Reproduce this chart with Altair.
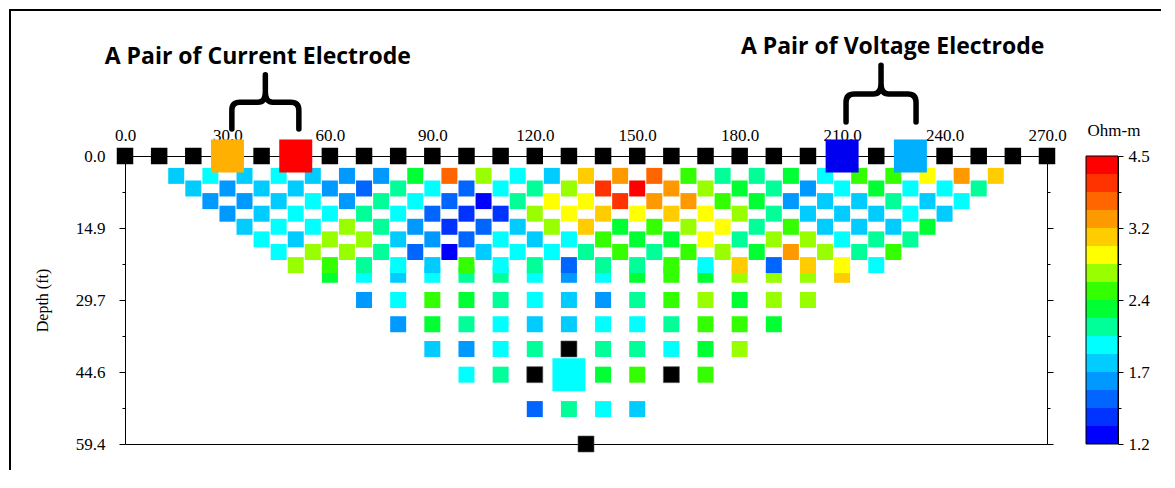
import altair as alt
import pandas as pd

# ---------------- values ----------------
X_TICKS = [0, 30, 60, 90, 120, 150, 180, 210, 240, 270]
DEPTH_TICKS = [0.0, 14.85, 29.7, 44.55, 59.4]
DEPTH_TICK_LABELS = ["0.0", "14.9", "29.7", "44.6", "59.4"]
DEPTH_MINOR_TICKS = [7.425, 22.275, 37.125, 51.975]

ELECTRODE_X = [0, 10, 20, 30, 40, 50, 60, 70, 80, 90, 100, 110, 120, 130,
               140, 150, 160, 170, 180, 190, 200, 210, 220, 230, 240, 250, 260, 270]
CURRENT_X = [30, 50]
CURRENT_COLORS = ["#FFB000", "#FF0000"]
VOLTAGE_X = [210, 230]
VOLTAGE_COLORS = ["#0000F0", "#00B0FF"]

# pseudo-section rows: depth (ft), x of first square (ft), apparent resistivity (Ohm-m)
ROW_DEPTH = [4.1, 6.7, 9.3, 11.9, 14.6, 17.2, 19.8, 22.5, 24.5, 29.7, 34.7, 39.8, 45.1, 52.2]
ROW_START_X = [15, 20, 25, 30, 35, 40, 45, 50, 60, 70, 80, 90, 100, 120]
ROW_01 = [1.74, 1.89, 1.74, 1.89, 1.74, 1.60, 1.60, 2.23, 3.66, 2.63, 1.89, 1.74, 3.10,
          3.37, 3.66, 2.42, 2.05, 2.05, 2.23, 1.89, 2.42, 2.42, 2.86, 3.37, 3.10]
ROW_02 = [1.74, 1.60, 1.74, 1.74, 1.60, 1.48, 2.05, 1.89, 1.48, 1.89, 2.05, 2.63, 3.98,
          4.32, 3.37, 2.63, 2.23, 2.05, 1.60, 1.89, 2.23, 1.89, 1.89, 2.05]
ROW_03 = [1.60, 1.60, 1.74, 1.89, 1.60, 2.05, 1.89, 1.48, 1.25, 2.05, 2.86, 2.86, 3.98,
          3.37, 3.37, 2.42, 2.23, 1.60, 1.74, 1.74, 2.05, 1.74, 1.89]
ROW_04 = [1.60, 1.74, 1.89, 1.89, 2.05, 1.89, 1.48, 1.36, 1.36, 2.63, 2.86, 3.10, 2.86,
          3.10, 2.86, 2.63, 2.05, 1.74, 1.74, 1.74, 1.89, 1.74]
ROW_05 = [1.74, 1.89, 1.89, 2.63, 2.05, 1.60, 1.36, 1.48, 1.74, 2.63, 3.10, 2.23, 2.42,
          2.63, 2.86, 2.05, 2.42, 1.74, 1.74, 1.74, 2.23]
ROW_06 = [1.89, 1.74, 2.63, 2.63, 1.74, 1.60, 1.48, 1.89, 1.74, 1.89, 2.42, 2.23, 2.23,
          2.86, 2.05, 2.63, 2.63, 1.89, 2.05, 2.05]
ROW_07 = [1.89, 2.63, 2.63, 2.05, 1.48, 1.25, 1.74, 1.89, 1.89, 2.05, 2.42, 2.05, 2.42,
          2.63, 2.23, 3.37, 2.63, 2.05, 2.42]
ROW_08 = [2.63, 2.42, 2.05, 1.89, 1.74, 2.42, 1.89, 2.05, 1.48, 2.05, 2.05, 2.42, 1.89,
          3.10, 1.48, 3.10, 2.86, 1.89]
ROW_09 = [2.23, 1.89, 1.74, 1.89, 2.05, 2.05, 1.89, 1.60, 1.89, 2.23, 2.42, 2.23, 2.63,
          2.63, 2.63, 3.10]
ROW_10 = [1.60, 1.89, 2.42, 2.23, 2.05, 1.89, 1.74, 1.60, 2.05, 2.42, 2.63, 2.23, 2.63, 2.63]
ROW_11 = [1.60, 2.23, 2.05, 1.89, 1.74, 1.74, 1.89, 1.89, 2.05, 2.42, 2.42, 2.23]
ROW_12 = [1.74, 1.60, 1.89, 2.05, None, 2.05, 2.05, 1.89, 2.23, 2.63]
ROW_13 = [1.89, 2.05, None, 1.89, 2.23, 2.42, None, 2.42]
ROW_14 = [1.48, 2.05, 1.89, 1.74]
ROWS = [ROW_01, ROW_02, ROW_03, ROW_04, ROW_05, ROW_06, ROW_07,
        ROW_08, ROW_09, ROW_10, ROW_11, ROW_12, ROW_13, ROW_14]

HIGHLIGHT_X, HIGHLIGHT_DEPTH = 130, 45.1
MARKER_X = [130, 120, 160, 135]
MARKER_DEPTH = [39.8, 45.1, 45.1, 59.4]

BAND_EDGES = [1.20, 1.30, 1.42, 1.54, 1.67, 1.81, 1.97, 2.14, 2.32,
              2.52, 2.74, 2.98, 3.23, 3.51, 3.81, 4.14, 4.50]
BAND_COLORS = ["#0000FF", "#0033FF", "#0066FF", "#0099FF", "#00CCFF", "#00FFFF",
               "#00FF99", "#00FF33", "#33FF00", "#99FF00", "#FFFF00", "#FFCC00",
               "#FF9900", "#FF6600", "#FF3300", "#FF0000"]
LEGEND_TICK_BANDS = [0, 4, 8, 12, 16]
LEGEND_MINOR_BANDS = [2, 6, 10, 14]
LEGEND_TICK_LABELS = ["1.2", "1.7", "2.4", "3.2", "4.5"]

ANNOT_TEXT = ["A Pair of Current Electrode", "A Pair of Voltage Electrode"]
ANNOT_X = [38.9, 224.8]
ANNOT_DEPTH = [-19.0, -20.95]
BRACE_X = [41.1, 221.4]
BRACE_DEPTH = [-11.1, -12.8]
BRACE_SPAN = [4489, 4900]

# ---------------- tables ----------------
recs = []
for depth, x0, vals in reversed(list(zip(ROW_DEPTH, ROW_START_X, ROWS))):
    for i, v in enumerate(vals):
        if v is None:
            continue
        x = x0 + 10 * i
        big = (x == HIGHLIGHT_X and depth == HIGHLIGHT_DEPTH)
        recs.append({"x": x, "depth": depth, "rho": v, "s": 1089 if big else 256})
cells = pd.DataFrame(recs)

markers = pd.DataFrame({"x": MARKER_X, "depth": MARKER_DEPTH})
special = CURRENT_X + VOLTAGE_X
black_el = pd.DataFrame({"x": [e for e in ELECTRODE_X if e not in special],
                         "depth": 0.0})
color_el = pd.DataFrame({"x": CURRENT_X + VOLTAGE_X, "depth": 0.0,
                         "col": CURRENT_COLORS + VOLTAGE_COLORS})
bands = pd.DataFrame({"lo": list(range(16)), "hi": list(range(1, 17)), "col": BAND_COLORS})
annots = pd.DataFrame({"t": ANNOT_TEXT, "x": ANNOT_X, "depth": ANNOT_DEPTH})
braces = pd.DataFrame({"x": BRACE_X, "depth": BRACE_DEPTH, "s": BRACE_SPAN})
one = pd.DataFrame({"a": [0]})

# ---------------- helpers ----------------
SERIF = "Liberation Serif"


def label_expr(values, labels):
    expr = "''"
    for v, l in reversed(list(zip(values, labels))):
        expr = f"abs(datum.value - {v}) < 1e-6 ? '{l}' : ({expr})"
    return expr


def minor_test(values):
    return " || ".join(f"abs(datum.value - {v}) < 1e-6" for v in values)


xs = alt.Scale(domain=[0, 270], nice=False, zero=False)


def ys():
    return alt.Scale(domain=[0, 59.4], reverse=True, nice=False, zero=False)


depth_vals = sorted(DEPTH_TICKS + DEPTH_MINOR_TICKS)
depth_ticksize = {"condition": {"test": minor_test(DEPTH_MINOR_TICKS), "value": 3}, "value": 6}

axis_common = dict(labelFont=SERIF, labelFontSize=17, labelColor="black",
                   tickColor="black", domainColor="black", grid=False,
                   labelFlush=False, labelOverlap=False)

x_axis = alt.Axis(orient="top", values=X_TICKS, format=".1f", tickSize=8,
                  labelPadding=4, title=None, **axis_common)
left_axis = alt.Axis(orient="left", values=depth_vals,
                     labelExpr=label_expr(DEPTH_TICKS, DEPTH_TICK_LABELS),
                     tickSize=depth_ticksize, labelPadding=14,
                     title="Depth (ft)", titleFont=SERIF, titleFontSize=16,
                     titleFontWeight="normal", titleColor="black", titlePadding=25,
                     **axis_common)
right_axis = alt.Axis(orient="right", values=depth_vals, labels=False,
                      tickSize=depth_ticksize, title=None, **axis_common)
cb_axis = alt.Axis(orient="right", offset=71,
                   values=sorted(LEGEND_TICK_BANDS + LEGEND_MINOR_BANDS),
                   labelExpr=label_expr(LEGEND_TICK_BANDS, LEGEND_TICK_LABELS),
                   tickSize={"condition": {"test": minor_test(LEGEND_MINOR_BANDS), "value": 3},
                             "value": 5},
                   labelPadding=5, title=None, **axis_common)

rho_scale = alt.Scale(type="threshold", domain=BAND_EDGES[1:-1], range=BAND_COLORS)


def X():
    return alt.X("x:Q", scale=xs, axis=x_axis)


# ---------------- layers ----------------
frame_top = alt.Chart(one).mark_rule(color="black", strokeWidth=2).encode(
    x=alt.value(-116), x2=alt.value(1036), y=alt.value(-146))
frame_left = alt.Chart(one).mark_rule(color="black", strokeWidth=2).encode(
    x=alt.value(-115), y=alt.value(-147), y2=alt.value(314))

cell_layer = alt.Chart(cells).mark_square(opacity=1, strokeWidth=0).encode(
    x=X(),
    y=alt.Y("depth:Q", scale=ys(), axis=left_axis),
    color=alt.Color("rho:Q", scale=rho_scale, legend=None),
    size=alt.Size("s:Q", scale=None),
)

marker_layer = alt.Chart(markers).mark_square(opacity=1, color="black", size=256,
                                              stroke="#555555", strokeWidth=0.6).encode(
    x=X(),
    y=alt.Y("depth:Q", scale=ys(), axis=None),
)

electrode_layer = alt.Chart(black_el).mark_square(opacity=1, color="black", size=272).encode(
    x=X(),
    y=alt.Y("depth:Q", scale=ys(), axis=right_axis),
)

color_el_layer = alt.Chart(color_el).mark_square(opacity=1, size=1089, strokeWidth=0).encode(
    x=X(),
    y=alt.Y("depth:Q", scale=ys(), axis=None),
    color=alt.Color("col:N", scale=None),
)

BRACE_PATH = ("M -1 0.8 L -1 0.24 Q -1 0 -0.76 0 L -0.22 0 Q 0 0 0 -0.3 L 0 -0.82 "
              "M 0 -0.3 Q 0 0 0.22 0 L 0.76 0 Q 1 0 1 0.24 L 1 0.8")
brace_layer = alt.Chart(braces).mark_point(shape=BRACE_PATH, filled=False, opacity=1,
                                           color="black", strokeWidth=5.5,
                                           strokeCap="round", strokeJoin="round").encode(
    x=X(),
    y=alt.Y("depth:Q", scale=ys(), axis=None),
    size=alt.Size("s:Q", scale=None),
)

annot_layer = alt.Chart(annots).mark_text(font="Open Sans", fontWeight="bold", fontSize=23,
                                          color="black", align="center",
                                          baseline="alphabetic").encode(
    x=X(),
    y=alt.Y("depth:Q", scale=ys(), axis=None),
    text="t:N",
)

cb_layer = alt.Chart(bands).mark_rect(strokeWidth=0).encode(
    x=alt.value(961), x2=alt.value(993),
    y=alt.Y("lo:Q", scale=alt.Scale(domain=[0, 16], nice=False, zero=False), axis=cb_axis),
    y2="hi:Q",
    color=alt.Color("col:N", scale=None),
)
cb_border = alt.Chart(one).mark_rect(filled=False, stroke="black", strokeWidth=1).encode(
    x=alt.value(961), x2=alt.value(993), y=alt.value(0), y2=alt.value(288))
cb_title = alt.Chart(one).mark_text(font=SERIF, fontSize=17, color="black",
                                    align="center", baseline="middle").encode(
    x=alt.value(989), y=alt.value(-25), text=alt.value("Ohm-m"))

chart = alt.layer(
    frame_top, frame_left, cell_layer, marker_layer, electrode_layer, color_el_layer,
    brace_layer, annot_layer, cb_layer, cb_border, cb_title,
).resolve_scale(y="independent", color="independent", size="independent").resolve_axis(
    y="independent"
).properties(width=922, height=288, padding=0, background="white").configure_view(
    stroke="black", strokeWidth=1
)

chart.save("out.html", embed_options={"renderer": "svg", "actions": False})
